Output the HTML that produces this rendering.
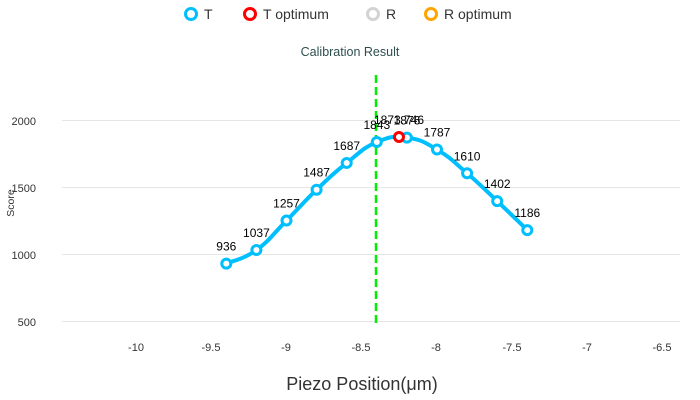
<!DOCTYPE html>
<html><head><meta charset="utf-8"><style>
body{margin:0;background:#fff;}
svg{display:block;font-family:"Liberation Sans",sans-serif;}
</style></head><body>
<svg id="s" width="700" height="400" xmlns="http://www.w3.org/2000/svg">
<rect width="700" height="400" fill="#fff"/>
<circle cx="191" cy="14" r="5.5" fill="#fff" stroke="#00bfff" stroke-width="3"/>
<text x="204" y="19" font-size="14" fill="#333">T</text>
<circle cx="250" cy="14" r="5.5" fill="#fff" stroke="#ff0000" stroke-width="3"/>
<text x="263" y="19" font-size="14" fill="#333">T optimum</text>
<circle cx="373" cy="14" r="5.5" fill="#fff" stroke="#d3d3d3" stroke-width="3"/>
<text x="386" y="19" font-size="14" fill="#333">R</text>
<circle cx="431" cy="14" r="5.5" fill="#fff" stroke="#ffa500" stroke-width="3"/>
<text x="444" y="19" font-size="14" fill="#333">R optimum</text>
<text x="350" y="56" font-size="12.5" fill="#2f4f4f" text-anchor="middle">Calibration Result</text>
<g stroke="#e6e6e6" stroke-width="1">
<line x1="62" x2="680" y1="120.5" y2="120.5"/>
<line x1="62" x2="680" y1="187.5" y2="187.5"/>
<line x1="62" x2="680" y1="254.5" y2="254.5"/>
<line x1="62" x2="680" y1="321.5" y2="321.5"/>
</g>
<g font-size="11" fill="#333" text-anchor="end">
<text x="36" y="125">2000</text><text x="36" y="192">1500</text>
<text x="36" y="259">1000</text><text x="36" y="326">500</text>
</g>
<text x="14" y="203" font-size="10.5" fill="#333" text-anchor="middle" transform="rotate(-90 14 203)">Score</text>
<g font-size="11" fill="#333" text-anchor="middle">
<text x="136" y="351">-10</text><text x="211" y="351">-9.5</text><text x="286" y="351">-9</text>
<text x="361" y="351">-8.5</text><text x="436" y="351">-8</text><text x="512" y="351">-7.5</text>
<text x="587" y="351">-7</text><text x="662" y="351">-6.5</text>
</g>
<text x="362" y="390" font-size="18" fill="#333" text-anchor="middle">Piezo Position(μm)</text>
<line x1="376" x2="376" y1="75" y2="325" stroke="#00ee00" stroke-width="2.5" stroke-dasharray="8,4"/>
<path id="curve" fill="none" stroke="#00bfff" stroke-width="4"/>
<g id="pts"></g>
<circle cx="399" cy="137" r="4.5" fill="#fff" stroke="#ff0000" stroke-width="3"/>
<text x="399" y="124" font-size="12" fill="#000" text-anchor="middle">1873.746</text>
</svg>
<script>
var d=[[-9.4,936],[-9.2,1037],[-9,1257],[-8.8,1487],[-8.6,1687],[-8.4,1843],[-8.2,1876],[-8,1787],[-7.8,1610],[-7.6,1402],[-7.4,1186]];
var p=d.map(function(a){return [136+(a[0]+10)*150.5,255-(a[1]-1000)*0.134];});
var s="M"+p[0][0]+","+p[0][1];
for(var i=0;i<p.length-1;i++){var p0=p[i-1]||p[i],p1=p[i],p2=p[i+1],p3=p[i+2]||p2;
var t=4.5;
s+=" C"+(p1[0]+(p2[0]-p0[0])/t)+","+(p1[1]+(p2[1]-p0[1])/t)+" "+(p2[0]-(p3[0]-p1[0])/t)+","+(p2[1]-(p3[1]-p1[1])/t)+" "+p2[0]+","+p2[1];}
document.getElementById("curve").setAttribute("d",s);
var g=document.getElementById("pts"),h="";
p.forEach(function(q,i){h+='<circle cx="'+q[0]+'" cy="'+q[1]+'" r="4.5" fill="#fff" stroke="#00bfff" stroke-width="3"/>';
h+='<text x="'+q[0]+'" y="'+(q[1]-13)+'" font-size="12" fill="#000" text-anchor="middle">'+d[i][1]+'</text>';});
g.innerHTML=h;
</script>
</body></html>
